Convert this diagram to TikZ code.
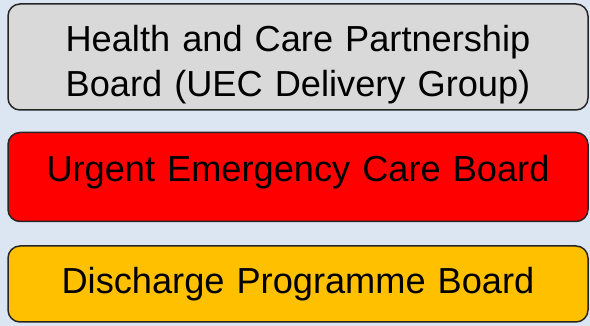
\documentclass[tikz,border=0pt]{standalone}
\usepackage{fontspec}
\setmainfont{Liberation Sans}
\usetikzlibrary{positioning}
\definecolor{bgblue}{HTML}{DCE6F2}
\definecolor{boxgray}{HTML}{D9D9D9}
\definecolor{boxorange}{HTML}{FFC000}
\definecolor{edgegray}{HTML}{262626}
\tikzstyle{board} = [rectangle, rounded corners=12pt, minimum width=580pt, text width=560pt, align=center, draw=edgegray, line width=1.5pt, font=\fontsize{36.2}{45}\selectfont, inner sep=0pt, text height=26pt]
\tikzstyle{topboard} = [board, fill=boxgray, minimum height=106pt, text depth=36pt]
\tikzstyle{midboard} = [board, fill=red, minimum height=89pt, text depth=17pt]
\tikzstyle{lowboard} = [board, fill=boxorange, minimum height=76pt, text depth=7pt]

\begin{document}
\begin{tikzpicture}[x=1pt, y=1pt, node distance=21pt]

\fill[bgblue] (0,0) rectangle (590,326);
\useasboundingbox (0,0) rectangle (590,326);

\node (hcp) [topboard] at (298,269) {Health and Care Partnership\\Board (UEC Delivery Group)};
\node (uec) [midboard, below=of hcp] {Urgent Emergency Care Board};
\node (dpb) [lowboard, below=23pt of uec] {Discharge Programme Board};

\end{tikzpicture}
\end{document}
